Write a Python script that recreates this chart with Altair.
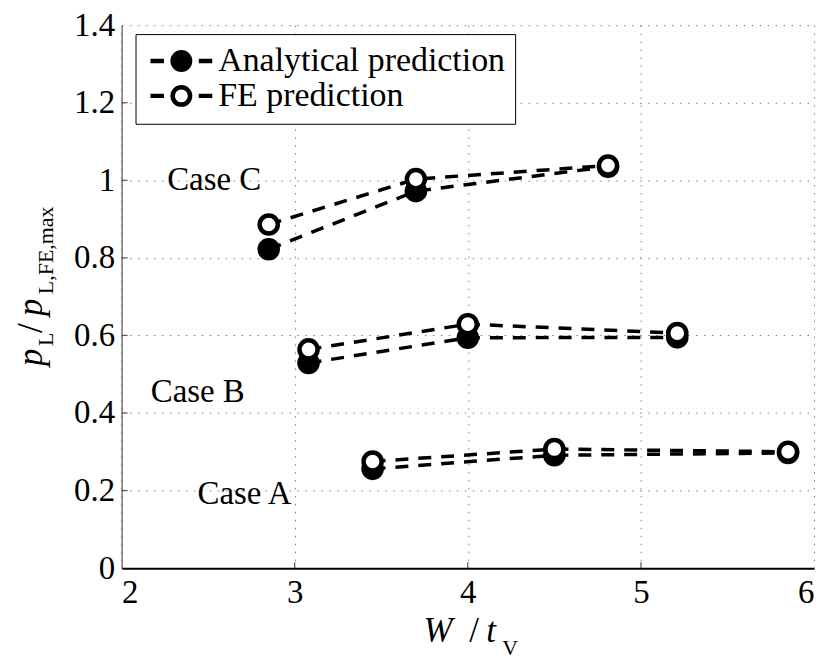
import altair as alt
import pandas as pd

# ---- data ----
series_names = ["Analytical prediction", "FE prediction"]
case_names = ["Case A", "Case B", "Case C"]

x_A = [3.45, 4.50, 5.85]
ana_A = [0.256, 0.291, 0.297]
fe_A = [0.275, 0.307, 0.300]

x_B = [3.08, 4.00, 5.21]
ana_B = [0.529, 0.594, 0.595]
fe_B = [0.564, 0.629, 0.606]

x_C = [2.85, 3.70, 4.81]
ana_C = [0.822, 0.972, 1.035]
fe_C = [0.886, 1.003, 1.038]

label_x = [2.71, 2.44, 2.535]
label_y = [0.192, 0.454, 1.0]

x_ticks = [2, 3, 4, 5, 6]
y_ticks = [0, 0.2, 0.4, 0.6, 0.8, 1, 1.2, 1.4]

# ---- tables ----
xs = {"Case A": x_A, "Case B": x_B, "Case C": x_C}
ys = {
    ("Analytical prediction", "Case A"): ana_A,
    ("Analytical prediction", "Case B"): ana_B,
    ("Analytical prediction", "Case C"): ana_C,
    ("FE prediction", "Case A"): fe_A,
    ("FE prediction", "Case B"): fe_B,
    ("FE prediction", "Case C"): fe_C,
}
rows = []
for s in series_names:
    for c in case_names:
        for xv, yv in zip(xs[c], ys[(s, c)]):
            rows.append({"x": xv, "y": yv, "series": s, "case": c, "grp": s + c})
df = pd.DataFrame(rows)
labels_df = pd.DataFrame({"x": label_x, "y": label_y, "text": case_names})
xt_df = pd.DataFrame({"x": x_ticks[1:-1]})
yt_df = pd.DataFrame({"y": y_ticks[1:-1]})

FONT = "Liberation Serif"
H = 545

xscale = alt.Scale(domain=[2, 6], nice=False, zero=False)
yscale = alt.Scale(domain=[0, 1.4], nice=False, zero=False)

x_axis = alt.Axis(values=x_ticks, format="d", labelPadding=8,
                  domainColor="black", domainWidth=2)
y_axis = alt.Axis(values=y_ticks, format="~g", labelPadding=7,
                  domainColor="#555555", domainWidth=1.2)
x_enc = alt.X("x:Q", scale=xscale, axis=x_axis)
y_enc = alt.Y("y:Q", scale=yscale, axis=y_axis)

base = alt.Chart(df)

# inward tick marks (MATLAB style)
xticks_layer = alt.Chart(xt_df).mark_rule(color="#555555", strokeWidth=1.2).encode(
    x=x_enc, y=alt.value(H), y2=alt.value(H - 6)
)
yticks_layer = alt.Chart(yt_df).mark_rule(color="#555555", strokeWidth=1.2).encode(
    y=y_enc, x=alt.value(0), x2=alt.value(6)
)

lines = base.mark_line(color="black", strokeWidth=3.5, strokeDash=[13, 10]).encode(
    x=x_enc, y=y_enc, detail="grp:N", order="x:Q"
)

legend_symbol = (
    "M-3.1,0H-1.75M1.75,0H3.1"
    "M0.875,0A0.875,0.875,0,1,1,-0.875,0A0.875,0.875,0,1,1,0.875,0Z"
)

points = base.mark_point(
    shape="circle", filled=True, size=330, stroke="black", strokeWidth=4.5,
    opacity=1, fillOpacity=1,
).encode(
    x=x_enc, y=y_enc,
    fill=alt.Fill(
        "series:N",
        scale=alt.Scale(domain=series_names, range=["black", "white"]),
        legend=alt.Legend(
            title=None, orient="none", legendX=14, legendY=9,
            symbolType=legend_symbol, symbolSize=400, symbolStrokeWidth=4.5,
            symbolStrokeColor="black", symbolOffset=19,
            labelFont=FONT, labelFontSize=34,
            labelColor="black", labelOffset=20, labelLimit=600,
            strokeColor="black", fillColor="white", padding=10, rowPadding=-5,
        ),
    ),
    order=alt.Order("series:N"),
)

case_text = alt.Chart(labels_df).mark_text(
    font=FONT, fontSize=33, color="black", align="center", baseline="middle"
).encode(x=x_enc, y=y_enc, text="text:N")

one = pd.DataFrame({"k": [0]})


def piece(txt, x, y, size, italic=False, angle=0):
    kw = dict(text=txt, font=FONT, fontSize=size, color="black", align="left",
              baseline="alphabetic")
    if italic:
        kw["fontStyle"] = "italic"
    if angle:
        kw["angle"] = angle
    return alt.Chart(one).mark_text(**kw).encode(x=alt.value(x), y=alt.value(y))


titles = [
    # x title: W / t_V
    piece("W", 303, 619, 35, italic=True),
    piece("/", 349, 619, 35),
    piece("t", 366, 619, 35, italic=True),
    piece("V", 382, 632, 22),
    # y title: p_L / p_L,FE,max (rotated)
    piece("p", -80, 342, 35, italic=True, angle=270),
    piece("L", -69, 322, 22, angle=270),
    piece("/", -80, 309, 35, angle=270),
    piece("p", -80, 292, 35, italic=True, angle=270),
    piece("L,FE,max", -69, 270, 22, angle=270),
]

chart = alt.layer(xticks_layer, yticks_layer, lines, points, case_text, *titles).properties(
    width=695, height=H, autosize="none",
    padding={"left": 114, "top": 16, "right": 8, "bottom": 90},
).configure_view(stroke=None).configure_axis(
    grid=True, gridDash=[1.5, 6.5], gridColor="#808080", gridWidth=1,
    ticks=False, labelFont=FONT, labelFontSize=33, labelColor="black", title=None,
)

chart.save("out.html", embed_options={"renderer": "svg", "actions": False})
